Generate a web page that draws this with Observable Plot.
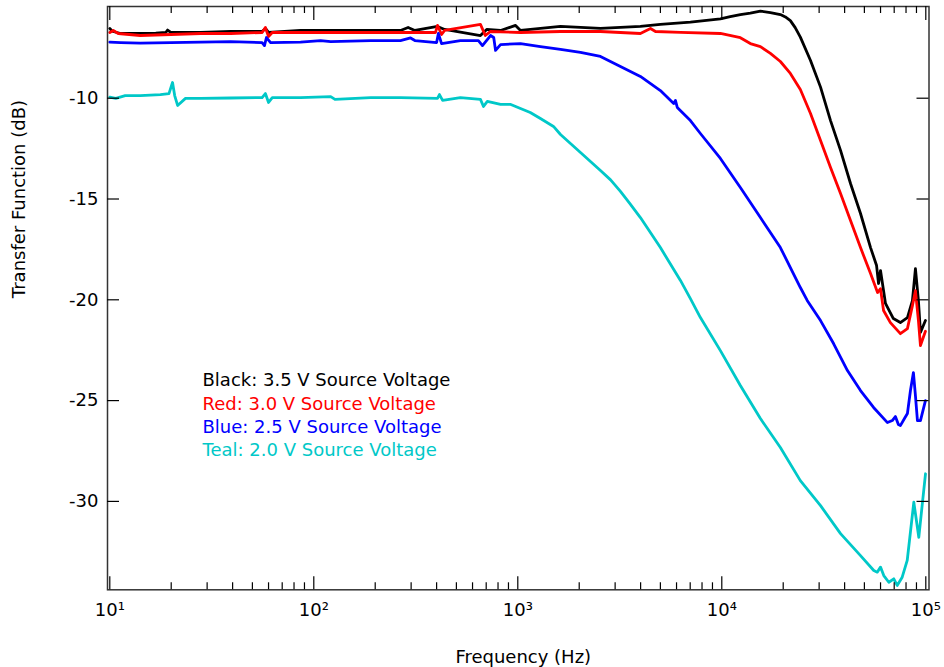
<!DOCTYPE html>
<html><head><meta charset="utf-8">
<script src="https://cdn.jsdelivr.net/npm/d3@7"></script>
<script src="https://cdn.jsdelivr.net/npm/@observablehq/plot@0.6"></script>
<style>html,body{margin:0;padding:0;background:#fff}svg{display:block}</style>
</head><body><div id="chart"></div>
<script>
// ---- data ----
const seriesNames = ["3.5 V", "3.0 V", "2.5 V", "2.0 V"];
const seriesColors = ["#000000", "#ff0000", "#0000ff", "#00c8c8"];
const legendLabels = [
  "Black: 3.5 V Source Voltage",
  "Red: 3.0 V Source Voltage",
  "Blue: 2.5 V Source Voltage",
  "Teal: 2.0 V Source Voltage"
];

const blackF = [10,10.2,10.4,11.3,14.1,16.8,18.8,19.2,19.9,27.9,39.1,55.8,57.9,60.0,86.1,151,266,290,313,404,438,656,704,823,975,1031,1619,2029,2542,3990,5000,7016,9843,11000,12330,13800,15460,17310,19370,20500,21680,22900,24270,27220,30480,34120,38200,42750,47860,53600,57370,58660,59980,63440,69340,75050,81270,86000,88960,92010,94150,99600];
const blackDB = [-6.54,-6.64,-6.69,-6.79,-6.79,-6.77,-6.74,-6.62,-6.74,-6.74,-6.69,-6.69,-6.54,-6.74,-6.64,-6.64,-6.64,-6.49,-6.64,-6.44,-6.59,-6.89,-6.59,-6.64,-6.39,-6.64,-6.44,-6.49,-6.54,-6.44,-6.34,-6.23,-6.06,-5.95,-5.85,-5.78,-5.68,-5.75,-5.85,-5.97,-6.15,-6.50,-6.97,-8.13,-9.45,-11.11,-12.59,-14.23,-15.72,-17.41,-18.30,-19.19,-18.55,-20.18,-20.93,-21.13,-20.88,-20.04,-18.45,-20.04,-21.62,-21.03];

const redF = [10,10.4,11.0,14.1,19.9,27.9,39.1,55.8,57.9,60.0,62.6,86.1,151,266,395,404,423,438,656,693,735,1031,1619,2542,3990,4470,4730,6270,9843,12330,13800,15460,17310,19370,21680,24270,27220,30480,34120,38200,42750,47860,53600,58010,59980,62070,67050,75050,81270,86000,88960,92010,94150,99600];
const redDB = [-6.74,-6.64,-6.79,-6.89,-6.84,-6.79,-6.79,-6.74,-6.49,-6.94,-6.74,-6.74,-6.74,-6.74,-6.74,-6.39,-6.84,-6.64,-6.34,-6.89,-6.69,-6.74,-6.69,-6.69,-6.79,-6.54,-6.69,-6.73,-6.79,-7.0,-7.29,-7.44,-7.78,-8.18,-8.77,-9.57,-10.76,-12.10,-13.44,-14.73,-16.07,-17.41,-18.70,-19.64,-19.45,-20.53,-21.13,-21.68,-21.43,-20.29,-19.55,-21.03,-22.27,-21.56];

const blueF = [10,11.3,14.1,19.9,27.9,39.1,55.8,57.3,58.6,61.4,86.1,108,121,190,266,298,313,400,408,423,523,641,671,735,762,778,823,1031,1291,1619,2029,2542,3185,3990,5000,5810,5925,6050,7016,7855,9843,12330,15460,19370,24270,26220,30480,35300,41300,47860,55460,64870,68500,70950,73400,75050,78600,81270,84100,86960,88960,91000,94150,99600];
const blueDB = [-7.22,-7.24,-7.27,-7.24,-7.22,-7.19,-7.24,-7.39,-6.99,-7.24,-7.22,-7.14,-7.19,-7.14,-7.14,-7.01,-7.14,-7.24,-6.79,-7.29,-7.14,-7.14,-7.39,-6.89,-6.99,-7.63,-7.34,-7.29,-7.44,-7.58,-7.73,-7.93,-8.43,-8.92,-9.62,-10.26,-10.11,-10.46,-11.11,-11.75,-12.99,-14.43,-15.92,-17.41,-19.39,-20.03,-21.03,-22.17,-23.51,-24.50,-25.34,-26.09,-25.99,-25.79,-26.19,-26.24,-25.89,-25.64,-24.50,-23.61,-24.75,-25.99,-25.99,-25.00];

const tealF = [10,10.7,11.9,14.1,17.7,19.5,20.3,20.8,21.5,23.5,27.9,39.1,55.8,57.9,60.0,62.6,86.1,121,127,190,266,404,413,428,523,656,679,709,823,924,1031,1151,1291,1496,1619,2029,2542,2850,3185,3560,3990,5000,6270,7016,7855,9843,12330,15460,19370,24270,30480,38200,47860,55590,57800,59980,62230,65870,69680,72400,76610,81080,87350,92400,99660];
const tealDB = [-9.95,-10.01,-9.87,-9.87,-9.82,-9.77,-9.22,-9.87,-10.36,-10.01,-10.01,-9.99,-9.97,-9.77,-10.21,-9.97,-9.97,-9.92,-10.06,-9.97,-9.97,-10.01,-9.82,-10.11,-9.97,-10.06,-10.41,-10.16,-10.31,-10.31,-10.51,-10.71,-11.01,-11.40,-11.80,-12.69,-13.59,-14.05,-14.62,-15.25,-15.92,-17.41,-19.04,-19.94,-20.88,-22.52,-24.25,-25.89,-27.33,-28.97,-30.21,-31.60,-32.69,-33.43,-33.51,-33.26,-33.68,-34.01,-33.84,-34.17,-33.76,-32.93,-30.04,-31.78,-28.63];

const xMajorTicks = [10, 100, 1000, 10000, 100000];
const xTickLabels = ["10\u00b9", "10\u00b2", "10\u00b3", "10\u2074", "10\u2075"];
const xMinorTicks = [10, 100, 1000, 10000].flatMap(d => [2,3,4,5,6,7,8,9].map(m => m * d));
const yTicks = [-30, -25, -20, -15, -10];
const xTitle = "Frequency (Hz)";
const yTitle = "Transfer Function (dB)";

// ---- build table ----
const allSeries = [[blackF, blackDB], [redF, redDB], [blueF, blueDB], [tealF, tealDB]];
const rows = allSeries.flatMap(([fs, ds], k) => fs.map((f, i) => ({series: seriesNames[k], f, db: ds[i]})));

// ---- layout ----
const W = 944, H = 667, mL = 107, mR = 15.5, mT = 6, mB = 77.7;
const innerW = W - mL - mR, innerH = H - mT - mB;
const tickStyle = {stroke: "#000", strokeWidth: 1.2};

const chart = Plot.plot({
  width: W, height: H,
  marginLeft: mL, marginRight: mR, marginTop: mT, marginBottom: mB,
  style: {fontFamily: "'DejaVu Sans', sans-serif", fontSize: "17px", background: "#fff", color: "#000"},
  x: {type: "log", domain: [9.744, 103680]},
  y: {domain: [-34.385, -5.451]},
  color: {domain: seriesNames, range: seriesColors},
  marks: [
    Plot.line(rows, {x: "f", y: "db", z: "series", stroke: "series", strokeWidth: 2.8, strokeLinejoin: "round"}),
    Plot.frame({stroke: "#333", strokeWidth: 1.5}),
    // ticks inside the frame
    Plot.tickX(xMajorTicks, {x: d => d, insetTop: innerH - 13, ...tickStyle}),
    Plot.tickX(xMinorTicks, {x: d => d, insetTop: innerH - 7, ...tickStyle}),
    Plot.tickX(xMajorTicks, {x: d => d, insetBottom: innerH - 14, ...tickStyle}),
    Plot.tickX(xMinorTicks, {x: d => d, insetBottom: innerH - 7, ...tickStyle}),
    Plot.tickY(yTicks, {y: d => d, insetRight: innerW - 12, ...tickStyle}),
    Plot.tickY(yTicks, {y: d => d, insetLeft: innerW - 12, ...tickStyle}),
    // tick labels
    Plot.axisX(xMajorTicks, {anchor: "bottom", tickSize: 0, tickPadding: 13, label: null,
      tickFormat: d => xTickLabels[xMajorTicks.indexOf(d)], fontSize: 18}),
    Plot.axisY(yTicks, {anchor: "left", tickSize: 0, tickPadding: 9, label: null,
      tickFormat: d => String(d), fontSize: 18}),
    // axis titles
    Plot.text([xTitle], {frameAnchor: "bottom", dy: 67.9, dx: 5, lineAnchor: "middle", fontSize: 18}),
    Plot.text([yTitle], {frameAnchor: "left", dx: -88, rotate: -90, lineAnchor: "middle", fontSize: 18}),
    // legend
    ...legendLabels.map((t, i) => Plot.text([t], {frameAnchor: "top-left", dx: 95, dy: 373.9 + i * 23.4,
      textAnchor: "start", lineAnchor: "middle", fontSize: 18, fill: seriesColors[i]}))
  ]
});
document.getElementById("chart").appendChild(chart);
</script>
</body></html>
